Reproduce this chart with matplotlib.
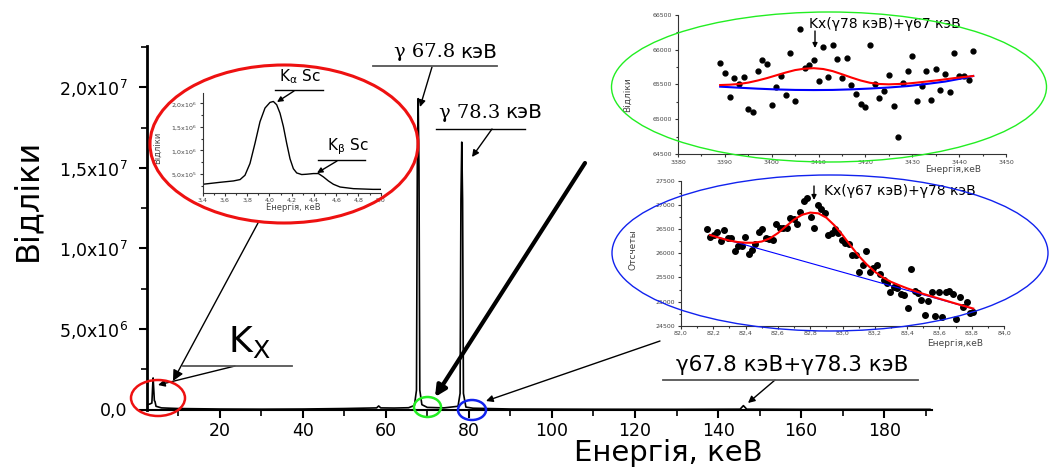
# Gamma spectrum with three zoomed insets (Sc K x-rays and two sum regions)
import matplotlib
matplotlib.use("Agg")
import matplotlib.pyplot as plt
from matplotlib.patches import Ellipse
from matplotlib.lines import Line2D
from matplotlib.ticker import MultipleLocator, FuncFormatter

plt.rcParams["font.family"] = ["DejaVu Sans"]

# ---- main spectrum (energy in keV, counts) ----
main_energy = [2.6, 3.2, 3.7, 3.9, 4.0, 4.1, 4.3, 4.45, 4.7, 6.0, 10.0, 20.0, 30.0,
               40.0, 50.0, 56.0, 57.8, 58.3, 58.8, 62.0, 65.5, 66.9, 67.4, 67.6,
               67.8, 68.0, 68.2, 68.7, 70.0, 74.0, 77.4, 77.9, 78.1, 78.3, 78.5,
               78.7, 79.3, 81.0, 90.0, 110.0, 130.0, 145.3, 146.1, 146.9, 160.0,
               191.0]
main_counts = [3.0e5, 3.4e5, 4.0e5, 1.5e6, 1.96e6, 1.5e6, 5.5e5, 5.0e5, 2.0e5,
               1.0e5, 6.0e4, 3.0e4, 2.0e4, 3.0e4, 6.0e4, 9.0e4, 1.0e5, 2.2e5,
               1.0e5, 9.0e4, 1.1e5, 2.5e5, 1.2e6, 1.5e7, 1.93e7, 1.5e7, 1.2e6,
               3.0e5, 1.3e5, 1.0e5, 2.0e5, 1.0e6, 1.3e7, 1.66e7, 1.3e7, 1.0e6,
               1.5e5, 8.0e4, 3.0e4, 1.5e4, 1.0e4, 2.0e4, 2.4e5, 2.0e4, 1.0e4,
               1.0e4]

# ---- inset 1: Sc K lines ----
sc_energy = [3.400, 3.556, 3.676, 3.736, 3.780, 3.825, 3.870, 3.915, 3.960, 4.005,
             4.035, 4.065, 4.095, 4.125, 4.155, 4.185, 4.215, 4.245, 4.290, 4.335,
             4.395, 4.440, 4.485, 4.530, 4.575, 4.635, 4.755, 4.930, 5.000]
sc_counts = [2.79e5, 3.21e5, 3.50e5, 3.79e5, 4.71e5, 7.21e5, 1.15e6, 1.61e6,
             1.90e6, 2.02e6, 2.04e6, 1.97e6, 1.79e6, 1.51e6, 1.15e6, 8.2e5,
             6.1e5, 5.2e5, 4.86e5, 4.93e5, 5.07e5, 5.07e5, 4.36e5, 3.5e5,
             2.79e5, 2.21e5, 1.86e5, 1.71e5, 1.71e5]

# ---- inset 2: region 3389-3443 ----
g_energy = list(range(3389, 3444))
g_counts = [65806, 65658, 65318, 65596, 65510, 65600, 65146, 65103, 65687, 65849,
            65792, 65208, 65462, 65615, 65352, 65945, 65265, 66294, 65734, 65782,
            65854, 65548, 66031, 65610, 66065, 65864, 65586, 65878, 65486, 65356,
            65213, 65179, 66069, 65510, 65309, 65409, 65629, 65194, 64749, 65514,
            65696, 65907, 65261, 65481, 65687, 65275, 65716, 65423, 65653, 65395,
            65950, 65620, 65620, 65562, 65983]
g_fit_x = [3389, 3391, 3393, 3395, 3397, 3399, 3401, 3403, 3405, 3407, 3409, 3411,
           3413, 3415, 3417, 3419, 3421, 3423, 3425, 3427, 3429, 3431, 3433, 3435,
           3437, 3439, 3441, 3443]
g_fit_y = [65490, 65495, 65505, 65525, 65555, 65590, 65630, 65670, 65705, 65725,
           65732, 65720, 65690, 65645, 65598, 65555, 65522, 65505, 65500, 65505,
           65512, 65525, 65540, 65555, 65572, 65590, 65605, 65620]
g_base_x = [3389, 3393, 3397, 3401, 3405, 3409, 3413, 3417, 3421, 3425, 3429,
            3433, 3437, 3441, 3443]
g_base_y = [65467, 65452, 65438, 65427, 65420, 65418, 65420, 65428, 65440, 65455,
            65475, 65505, 65540, 65590, 65620]

# ---- inset 3: region 82.2-83.8 keV ----
b_energy = [82.161, 82.182, 82.204, 82.225, 82.247, 82.268, 82.290, 82.311, 82.332,
            82.354, 82.375, 82.397, 82.418, 82.439, 82.461, 82.482, 82.504, 82.525,
            82.547, 82.568, 82.589, 82.611, 82.632, 82.654, 82.675, 82.697, 82.718,
            82.739, 82.761, 82.782, 82.804, 82.825, 82.846, 82.868, 82.889, 82.911,
            82.932, 82.954, 82.975, 82.996, 83.018, 83.039, 83.061, 83.082, 83.104,
            83.125, 83.146, 83.168, 83.189, 83.211, 83.232, 83.254, 83.275, 83.296,
            83.318, 83.339, 83.361, 83.382, 83.404, 83.425, 83.446, 83.468, 83.489,
            83.511, 83.532, 83.554, 83.575, 83.596, 83.618, 83.639, 83.661, 83.682,
            83.704, 83.725, 83.746, 83.768, 83.789, 83.810]
b_counts = [26512, 26339, 26380, 26449, 26249, 26477, 26311, 26311, 26055, 26145,
            26159, 26332, 25979, 26076, 26200, 26449, 26498, 26311, 26304, 26270,
            26601, 26518, 26532, 26532, 26726, 26719, 26601, 26857, 27085, 27141,
            26760, 26525, 27009, 26926, 26843, 26380, 26429, 26498, 26429, 26270,
            26221, 26200, 25965, 25965, 25606, 25751, 26055, 25620, 25703, 25758,
            25565, 25454, 25392, 25205, 25295, 25288, 25164, 25136, 24860, 25668,
            25212, 25171, 25032, 24721, 25012, 25191, 24694, 25191, 24687, 25191,
            25219, 25150, 24645, 25101, 24880, 24984, 24763, 24777]
b_fit_x = [82.18, 82.25, 82.30, 82.35, 82.40, 82.45, 82.50, 82.55, 82.60, 82.65,
           82.70, 82.75, 82.80, 82.85, 82.90, 82.95, 83.00, 83.05, 83.10, 83.15,
           83.20, 83.25, 83.30, 83.35, 83.40, 83.50, 83.60, 83.70, 83.81]
b_fit_y = [26380, 26310, 26265, 26235, 26220, 26220, 26245, 26310, 26420, 26560,
           26700, 26800, 26845, 26830, 26740, 26580, 26380, 26160, 25950, 25770,
           25620, 25500, 25410, 25340, 25275, 25160, 25060, 24960, 24855]
b_base_x = [82.18, 83.81]
b_base_y = [26380, 24850]

# figure is laid out in image pixels (origin top-left)
W, H = 1049, 467
fig = plt.figure(figsize=(W / 100, H / 100), dpi=100)


def fxy(x, y):
    return (x / W, 1 - y / H)


def box(left, top, right, bottom):
    return [left / W, 1 - bottom / H, (right - left) / W, (bottom - top) / H]


def comma_fmt(v, pos):
    return f"{v:.1f}".replace(".", ",")


def sci_fmt(v, pos):
    if v == 0:
        return "0,0"
    exp = 0
    m = v
    while m >= 10:
        m /= 10
        exp += 1
    mant = f"{m:.1f}".replace(".", "{,}")
    return r"$\mathregular{" + mant + "x10^{" + str(exp) + "}}$"


# ---- main axes ----
ax = fig.add_axes(box(147.3, 46, 932, 409.5))
ax.plot(main_energy, main_counts, color="black", lw=1.2)
ax.set_xlim(2.6, 191.5)
ax.set_ylim(0, 2.257e7)
ax.spines["top"].set_visible(False)
ax.spines["right"].set_visible(False)
ax.spines["left"].set_linewidth(2)
ax.spines["bottom"].set_linewidth(1.5)
ax.xaxis.set_major_locator(MultipleLocator(20))
ax.xaxis.set_minor_locator(MultipleLocator(10))
ax.yaxis.set_major_locator(MultipleLocator(5e6))
ax.yaxis.set_minor_locator(MultipleLocator(2.5e6))
ax.yaxis.set_major_formatter(FuncFormatter(sci_fmt))
ax.tick_params(which="major", length=6, width=1.5, labelsize=12.5)
ax.tick_params(which="minor", length=4, width=1.2)
ax.tick_params(axis="y", pad=8)
ax.tick_params(axis="x", pad=3)
fig.text(*fxy(668, 453), "Енергія, кеВ", fontsize=21, ha="center", va="center")
fig.text(*fxy(28, 200), "Відліки", fontsize=23, rotation=90, ha="center", va="center")


def make_inset(rect, xlim, ylim, xmaj, xmin, ymaj, ymin, xfmt, yfmt):
    iax = fig.add_axes(box(*rect))
    iax.patch.set_alpha(0)
    iax.set_xlim(*xlim)
    iax.set_ylim(*ylim)
    iax.spines["top"].set_visible(False)
    iax.spines["right"].set_visible(False)
    iax.spines["left"].set_color("#333333")
    iax.spines["bottom"].set_color("#333333")
    iax.xaxis.set_major_locator(MultipleLocator(xmaj))
    iax.xaxis.set_minor_locator(MultipleLocator(xmin))
    iax.yaxis.set_major_locator(MultipleLocator(ymaj))
    iax.yaxis.set_minor_locator(MultipleLocator(ymin))
    if xfmt is not None:
        iax.xaxis.set_major_formatter(FuncFormatter(xfmt))
    if yfmt is not None:
        iax.yaxis.set_major_formatter(FuncFormatter(yfmt))
    iax.tick_params(which="both", labelsize=4.5, labelcolor="#444444",
                    colors="#333333", width=0.8, pad=1.5)
    iax.tick_params(which="major", length=2.5)
    iax.tick_params(which="minor", length=1.5)
    return iax


# inset 1 - Sc K lines
ax1 = make_inset((202.7, 93, 380.7, 192.7), (3.4, 5.0), (1e5, 2.22e6),
                 0.2, 0.1, 5e5, 2.5e5, comma_fmt, sci_fmt)
ax1.plot(sc_energy, sc_counts, color="black", lw=1)
fig.text(*fxy(293, 208), "Енергія, кеВ", fontsize=6, color="#444444",
         ha="center", va="center")
fig.text(*fxy(158, 148), "Відліки", fontsize=6, color="#444444", rotation=90,
         ha="center", va="center")

# inset 2 - green region
ax2 = make_inset((678, 14.7, 1006, 154), (3380, 3450), (64500, 66500),
                 10, 5, 500, 250, None, None)
ax2.plot(g_energy, g_counts, "o", color="black", ms=3.5)
ax2.plot(g_base_x, g_base_y, color="blue", lw=1.5)
ax2.plot(g_fit_x, g_fit_y, color="red", lw=1.5)
fig.text(*fxy(953, 169), "Енергія,кеВ", fontsize=6.5, color="#444444",
         ha="center", va="center")
fig.text(*fxy(628, 95), "Відліки", fontsize=6.5, color="#444444", rotation=90,
         ha="center", va="center")

# inset 3 - blue region
ax3 = make_inset((681, 181, 1004, 325.7), (82.0, 84.0), (24500, 27500),
                 0.2, 0.1, 500, 250, comma_fmt, None)
ax3.plot(b_energy, b_counts, "o", color="black", ms=4)
ax3.plot(b_base_x, b_base_y, color="blue", lw=0.8)
ax3.plot(b_fit_x, b_fit_y, color="red", lw=1.5)
fig.text(*fxy(955, 344), "Енергія,кеВ", fontsize=6.5, color="#444444",
         ha="center", va="center")
fig.text(*fxy(633, 250), "Отсчеты", fontsize=6.5, color="#444444", rotation=90,
         ha="center", va="center")

# ---- ellipses ----
for cx, cy, w, h, col, lw in [(284, 144, 268, 158, "#ee1111", 2.2),
                              (829, 87, 435, 150, "#22ee22", 1.0),
                              (830, 253, 436, 156, "#1122ee", 1.0),
                              (158, 398, 54, 36, "#ee1111", 1.8),
                              (427.5, 407, 27, 20, "#22ee22", 1.8),
                              (472, 410, 28, 20, "#1122ee", 1.8)]:
    fig.add_artist(Ellipse(fxy(cx, cy), w / W, h / H, fill=False, edgecolor=col,
                           lw=lw, transform=fig.transFigure, zorder=10))


# ---- labels with underline and arrow ----
def underline(x1, x2, y, color="#555555", lw=1.3):
    fig.add_artist(Line2D([x1 / W, x2 / W], [1 - y / H, 1 - y / H], color=color,
                          lw=lw, transform=fig.transFigure))


def arrow(x1, y1, x2, y2, lw=1.0, scale=10):
    ax.annotate("", xy=fxy(x2, y2), xytext=fxy(x1, y1), xycoords="figure fraction",
                textcoords="figure fraction", annotation_clip=False,
                arrowprops=dict(arrowstyle="-|>", color="black", lw=lw,
                                mutation_scale=scale, shrinkA=0, shrinkB=0))


# gamma 67.8
fig.text(*fxy(455, 52), "γ 67.8", family="DejaVu Serif", fontsize=14,
         ha="right", va="center")
fig.text(*fxy(460, 52), "кэВ", fontsize=14.5, ha="left", va="center")
underline(373, 497, 66)
arrow(432, 67, 420, 107)

# gamma 78.3
fig.text(*fxy(500, 113), "γ 78.3", family="DejaVu Serif", fontsize=14,
         ha="right", va="center")
fig.text(*fxy(505, 113), "кэВ", fontsize=14.5, ha="left", va="center")
underline(436, 525, 129, color="black", lw=1.0)
arrow(492, 129, 472, 157)

# Sc K alpha / K beta
fig.text(*fxy(300, 77), r"$\mathregular{K_{\alpha}\ Sc}$", fontsize=11,
         ha="center", va="center")
underline(275, 323, 90, color="black", lw=1.0)
arrow(294, 91, 277, 102, scale=8)
fig.text(*fxy(348, 147), r"$\mathregular{K_{\beta}\ Sc}$", fontsize=11,
         ha="center", va="center")
underline(318, 365, 160, color="black", lw=1.0)
arrow(337, 161, 317, 173, scale=8)

# Kx in main spectrum
fig.text(*fxy(249, 342), r"$\mathregular{K_X}$", fontsize=26,
         ha="center", va="center")
underline(183, 292, 366)
arrow(235, 366, 158, 385)
arrow(258, 223, 173, 381, scale=16)

# arrows from the zoomed regions
arrow(585, 163, 435, 397, lw=3, scale=16)
arrow(660, 341, 486, 401)

# sum peak
fig.text(*fxy(792, 365), "γ67.8 кэВ+γ78.3 кэВ", fontsize=15.5,
         ha="center", va="center")
underline(663, 918, 380)
arrow(775, 380, 748, 403)

# inset annotations
fig.text(*fxy(885, 24), "Kx(γ78 кэВ)+γ67 кэВ", fontsize=10, ha="center",
         va="center")
arrow(815, 31, 815, 48, scale=7)
fig.text(*fxy(900, 191), "Kx(γ67 кэВ)+γ78 кэВ", fontsize=10, ha="center",
         va="center")
arrow(814, 186, 814, 200, scale=7)

fig.savefig("out.png", dpi=100)
